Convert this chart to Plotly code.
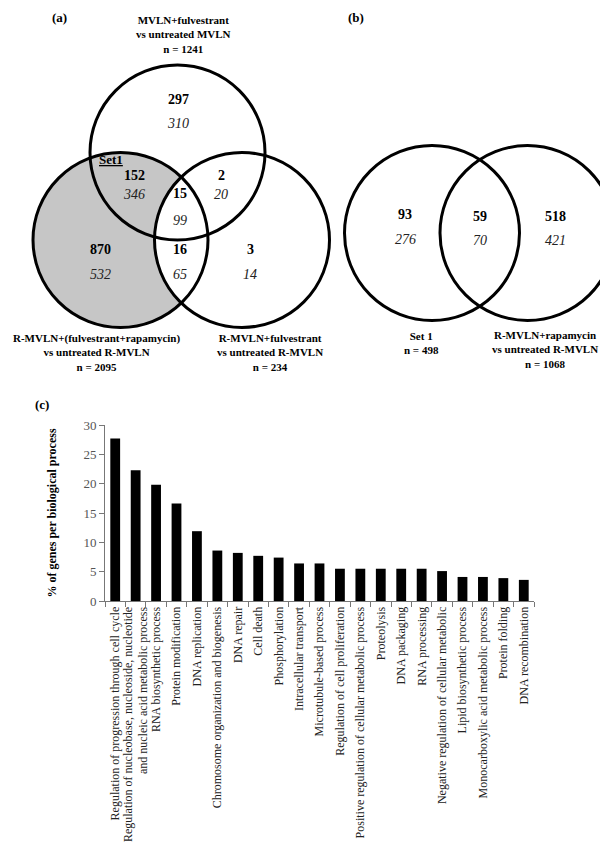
import numpy as np
import plotly.graph_objects as go

# ---------------- data ----------------
categories = [
    "Regulation of progression through cell cycle",
    "Regulation of nucleobase, nucleoside, nucleotide<br>and nucleic acid metabolic process",
    "RNA biosynthetic process",
    "Protein modification",
    "DNA replication",
    "Chromosome organization and biogenesis",
    "DNA repair",
    "Cell death",
    "Phosphorylation",
    "Intracellular transport",
    "Microtubule-based process",
    "Regulation of cell proliferation",
    "Positive regulation of cellular metabolic process",
    "Proteolysis",
    "DNA packaging",
    "RNA processing",
    "Negative regulation of cellular metabolic",
    "Lipid biosynthetic process",
    "Monocarboxylic acid metabolic process",
    "Protein folding",
    "DNA recombination",
]
pct_genes = [27.7, 22.3, 19.8, 16.6, 11.9, 8.6, 8.2, 7.7, 7.4, 6.4, 6.4,
             5.5, 5.5, 5.5, 5.5, 5.5, 5.1, 4.1, 4.1, 3.9, 3.6]
y_ticks = [0, 5, 10, 15, 20, 25, 30]

# Venn (a) region counts: bold (upper) and italic (lower)
venn_a_bold = ["297", "152", "15", "2", "870", "16", "3"]
venn_a_ital = ["310", "346", "99", "20", "532", "65", "14"]
venn_a_sets = [
    "MVLN+fulvestrant<br>vs untreated MVLN<br>n = 1241",
    "R-MVLN+(fulvestrant+rapamycin)<br>vs untreated R-MVLN<br>n = 2095",
    "R-MVLN+fulvestrant<br>vs untreated R-MVLN<br>n = 234",
]
# Venn (b)
venn_b_bold = ["93", "59", "518"]
venn_b_ital = ["276", "70", "421"]
venn_b_sets = ["Set 1<br>n = 498", "R-MVLN+rapamycin<br>vs untreated R-MVLN<br>n = 1068"]

# ---------------- layout geometry (pixels) ----------------
W, H = 608, 855
FONT = "Liberation Serif, Times New Roman, Times, serif"
R = 87.5
circ_a = [(169.5, 144.5), (112.5, 232.0), (234.0, 232.0)]  # top, bottom-left, bottom-right
circ_b = [(424.0, 225.0), (519.5, 225.0)]
DY = -6  # text baseline correction

pos_a_bold = [(170, 97), (126, 173), (172, 191), (213, 173), (92, 247), (172, 247), (242, 247)]
pos_a_ital = [(170, 121), (126, 192), (172, 218), (213, 192), (92, 272), (172, 272), (242, 272)]
pos_a_sets = [(175, 32), (88, 350), (262, 350)]
pos_b_bold = [(397, 212), (472, 214), (547, 214)]
pos_b_ital = [(397, 237), (472, 238), (547, 238)]
pos_b_sets = [(413, 341), (537, 347)]

fig = go.Figure()

# grey region: bottom-left circle minus bottom-right circle
(c1x, c1y), (c2x, c2y) = circ_a[1], circ_a[2]
d = np.hypot(c2x - c1x, c2y - c1y)
a = d / 2
h = np.sqrt(R**2 - a**2)
mx, my = (c1x + c2x) / 2, (c1y + c2y) / 2
ux, uy = (c2x - c1x) / d, (c2y - c1y) / d
pt = (mx + h * uy, my - h * ux)  # top intersection (y down)
pb = (mx - h * uy, my + h * ux)
t1s = np.arctan2(pt[1] - c1y, pt[0] - c1x)
t1e = np.arctan2(pb[1] - c1y, pb[0] - c1x)
th1 = np.linspace(t1s, t1e - 2 * np.pi, 200)
t2s = np.arctan2(pb[1] - c2y, pb[0] - c2x)
t2e = np.arctan2(pt[1] - c2y, pt[0] - c2x) + 2 * np.pi
th2 = np.linspace(t2s, t2e, 100)
gx = np.concatenate([c1x + R * np.cos(th1), c2x + R * np.cos(th2)])
gy = np.concatenate([c1y + R * np.sin(th1), c2y + R * np.sin(th2)])
fig.add_trace(go.Scatter(x=gx, y=gy, mode="lines", fill="toself",
                         fillcolor="#c6c6c6", line=dict(width=0),
                         xaxis="x2", yaxis="y2", hoverinfo="skip"))

# bar chart
fig.add_trace(go.Bar(x=categories, y=pct_genes, marker=dict(color="black", line=dict(width=0)),
                     width=0.48, xaxis="x", yaxis="y"))

shapes = []
for cx, cy in circ_a + circ_b:
    shapes.append(dict(type="circle", xref="x2", yref="y2",
                       x0=cx - R, x1=cx + R, y0=cy - R, y1=cy + R,
                       line=dict(color="black", width=3), layer="above"))

ann = []
def txt(x, y, s, size, ref=("x2", "y2"), color="black", **kw):
    ann.append(dict(x=x, y=y + DY, xref=ref[0], yref=ref[1], text=s, showarrow=False,
                    font=dict(family=FONT, size=size, color=color), **kw))

for (x, y), s in zip(pos_a_bold, venn_a_bold):
    txt(x, y, f"<b>{s}</b>", 14)
for (x, y), s in zip(pos_a_ital, venn_a_ital):
    txt(x, y, f"<i>{s}</i>", 14, color="#222")
for (x, y), s in zip(pos_a_sets, venn_a_sets):
    txt(x, y, f"<b>{s}</b>", 11)
for (x, y), s in zip(pos_b_bold, venn_b_bold):
    txt(x, y, f"<b>{s}</b>", 14)
for (x, y), s in zip(pos_b_ital, venn_b_ital):
    txt(x, y, f"<i>{s}</i>", 14, color="#222")
for (x, y), s in zip(pos_b_sets, venn_b_sets):
    txt(x, y, f"<b>{s}</b>", 11)
txt(103, 157, "<b><u>Set1</u></b>", 13)
txt(51, 15, "<b>(a)</b>", 13)
txt(348, 15, "<b>(b)</b>", 13)
txt(34, 402, "<b>(c)</b>", 13)

# bar axis geometry
x0p, x1p = 97, 526
ytop, ybot = 417, 593

fig.update_layout(
    width=W, height=H, margin=dict(l=0, r=0, t=0, b=0),
    paper_bgcolor="white", plot_bgcolor="white", showlegend=False,
    shapes=shapes, annotations=ann, bargap=0.5,
    xaxis=dict(domain=[x0p / W, x1p / W], anchor="y", showline=True, linecolor="#777",
               linewidth=1, ticks="outside", tickson="boundaries", ticklen=5, tickcolor="#777",
               tickangle=-90, tickfont=dict(family=FONT, size=12, color="#222"),
               showgrid=False, automargin=False),
    yaxis=dict(domain=[(H - ybot) / H, (H - ytop) / H], anchor="x", range=[0, 30],
               tickvals=y_ticks, showline=True, linecolor="#777", linewidth=1,
               ticks="outside", ticklen=5, tickcolor="#777", showgrid=False, zeroline=False,
               tickfont=dict(family=FONT, size=13, color="#555"), automargin=False,
               title=dict(text="<b>% of genes per biological process</b>", standoff=24,
                          font=dict(family=FONT, size=12, color="black"))),
    xaxis2=dict(domain=[0, 1], range=[0, W], anchor="y2", visible=False, fixedrange=True),
    yaxis2=dict(domain=[(H - 400) / H, 1], range=[400, 0], anchor="x2", visible=False,
                fixedrange=True),
)

fig.write_html("out.html")
